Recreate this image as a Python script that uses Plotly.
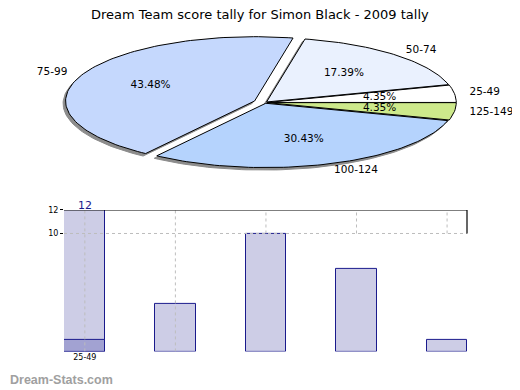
import math
import plotly.graph_objects as go

# ---------------- data ----------------
chart_title = "Dream Team score tally for Simon Black - 2009 tally"
pie_labels = ["25-49", "50-74", "75-99", "100-124", "125-149"]
pie_counts = [1, 4, 10, 7, 1]

bar_positions = [0, 1, 2, 3, 4]
bar_values = [12, 4, 10, 7, 1]
bar_overlay_values = [1, None, None, None, None]
bar_value_labels = ["12", "", "", "", ""]
bar_tick_text = ["25-49", "", "", "", ""]
y_tick_values = [10, 12]
watermark = "Dream-Stats.com"

# ---------------- styles ----------------
pie_colors = ["#ffffff", "#eaf1fe", "#c5d8fd", "#b5d3fd", "#cde98b"]
pie_explode = [0.012, 0.012, 0.06, 0.012, 0.012]
OFF = 8                      # page body margin
W, H = 520 - OFF, 390 - OFF  # figure size
CX, CY = 265 - OFF, 99.5 - OFF   # pie centre in figure px
RX, RY = 189, 65                 # ellipse radii in px
FONT = "DejaVu Sans"
LABEL_SIZE = 10.5

fig = go.Figure()

# ------------- elliptical pie (unit circle on squashed axes) -------------
total = sum(pie_counts)
shadow_dx, shadow_dy = -2.5 / RX, -2.5 / RY
cum = 0.0
slices = []
for lab, cnt, col, ex in zip(pie_labels, pie_counts, pie_colors, pie_explode):
    a0 = cum / total * 2 * math.pi
    cum += cnt
    a1 = cum / total * 2 * math.pi
    mid = (a0 + a1) / 2
    ox, oy = ex * math.cos(mid), ex * math.sin(mid)
    n = max(4, int((a1 - a0) / (2 * math.pi) * 240))
    xs = [ox] + [ox + math.cos(a0 + (a1 - a0) * k / n) for k in range(n + 1)] + [ox]
    ys = [oy] + [oy + math.sin(a0 + (a1 - a0) * k / n) for k in range(n + 1)] + [oy]
    slices.append((lab, cnt, col, xs, ys, mid, ox, oy))

for lab, cnt, col, xs, ys, mid, ox, oy in slices:
    fig.add_trace(go.Scatter(
        x=[v + shadow_dx for v in xs], y=[v + shadow_dy for v in ys],
        mode="lines", fill="toself", fillcolor="#8c8c8c",
        line=dict(color="#8c8c8c", width=1), hoverinfo="skip", showlegend=False,
        xaxis="x2", yaxis="y2"))
for lab, cnt, col, xs, ys, mid, ox, oy in slices:
    fig.add_trace(go.Scatter(
        x=xs, y=ys, mode="lines", fill="toself", fillcolor=col,
        line=dict(color="#000000", width=1), hoverinfo="skip", showlegend=False,
        xaxis="x2", yaxis="y2"))

for lab, cnt, col, xs, ys, mid, ox, oy in slices:
    pct = f"{cnt / total * 100:.2f}%"
    fig.add_trace(go.Scatter(
        x=[ox + 0.6 * math.cos(mid)], y=[oy + 0.6 * math.sin(mid)],
        mode="text", text=[pct], textposition="middle center", cliponaxis=False,
        textfont=dict(family=FONT, size=LABEL_SIZE, color="#000000"),
        hoverinfo="skip", showlegend=False, xaxis="x2", yaxis="y2"))
    right = math.cos(mid) >= 0
    fig.add_trace(go.Scatter(
        x=[ox + 1.08 * math.cos(mid)], y=[oy + 1.1 * math.sin(mid)],
        mode="text", text=[lab], cliponaxis=False,
        textposition="middle right" if right else "middle left",
        textfont=dict(family=FONT, size=LABEL_SIZE, color="#000000"),
        hoverinfo="skip", showlegend=False, xaxis="x2", yaxis="y2"))

# ---------------- bar chart ----------------
fig.add_trace(go.Bar(
    x=bar_positions, y=bar_values, width=0.45,
    marker=dict(color="#cdcde6", line=dict(color="#1a1a8c", width=1)),
    hoverinfo="skip", showlegend=False))
fig.add_trace(go.Bar(
    x=bar_positions, y=bar_overlay_values, width=0.45,
    marker=dict(color="#a2a2d2", line=dict(color="#1a1a8c", width=1)),
    hoverinfo="skip", showlegend=False))

shapes = []
grid = dict(color="#bdbdbd", width=1, dash="dot")
shapes.append(dict(type="line", xref="x domain", yref="y", x0=0, x1=1, y0=10, y1=10,
                   line=grid, layer="above"))
for p in bar_positions:
    low = 0 if p < 2 else 10
    shapes.append(dict(type="line", xref="x", yref="y", x0=p, x1=p, y0=low, y1=12,
                       line=grid, layer="above"))
shapes.append(dict(type="line", xref="x domain", yref="y", x0=0, x1=1, y0=12, y1=12,
                   line=dict(color="#000000", width=1.2), layer="above"))
shapes.append(dict(type="line", xref="x domain", yref="y", x0=1, x1=1, y0=10, y1=12,
                   line=dict(color="#000000", width=1.2), layer="above"))

annotations = []
for p, v, t in zip(bar_positions, bar_values, bar_value_labels):
    if t:
        annotations.append(dict(text=t, x=p, y=v, xref="x", yref="y",
                                xanchor="center", yanchor="middle", yshift=4,
                                showarrow=False,
                                font=dict(family=FONT, size=11, color="#1a1a8c")))
annotations.append(dict(text=watermark, xref="paper", yref="paper", x=0,
                        y=(H - (380 - OFF)) / H,
                        xanchor="left", yanchor="middle", showarrow=False,
                        font=dict(family="Liberation Sans", size=12.5, color="#a0a0a0",
                                  weight="bold")))
annotations.append(dict(text=chart_title, xref="paper", yref="paper",
                        x=(260 - OFF) / W, y=(H - 3) / H, xanchor="center", yanchor="middle",
                        showarrow=False,
                        font=dict(family=FONT, size=13, color="#000000")))

fig.update_layout(
    width=W, height=H,
    margin=dict(l=0, r=0, t=0, b=0),
    paper_bgcolor="white", plot_bgcolor="rgba(0,0,0,0)",
    barmode="overlay", bargap=0,
    xaxis=dict(domain=[(64 - OFF) / W, (467 - OFF) / W], range=[-0.23, 4.22],
               tickmode="array", tickvals=bar_positions, ticktext=bar_tick_text,
               showgrid=False, zeroline=False, showline=False, ticks="",
               tickfont=dict(family=FONT, size=8, color="#000000"), fixedrange=True),
    yaxis=dict(domain=[(H - (351 - OFF)) / H, (H - (208 - OFF)) / H], range=[0, 12],
               tickmode="array", tickvals=y_tick_values,
               showgrid=False, zeroline=False, showline=False,
               ticks="outside", ticklen=3, tickcolor="#000000",
               tickfont=dict(family=FONT, size=8, color="#000000"), fixedrange=True),
    xaxis2=dict(domain=[0, 1], anchor="y2", range=[-CX / RX, (W - CX) / RX],
                visible=False, fixedrange=True),
    yaxis2=dict(domain=[0, 1], anchor="x2", range=[-(H - CY) / RY, CY / RY],
                visible=False, fixedrange=True),
    shapes=shapes,
    annotations=annotations,
)

fig.write_html("out.html")
